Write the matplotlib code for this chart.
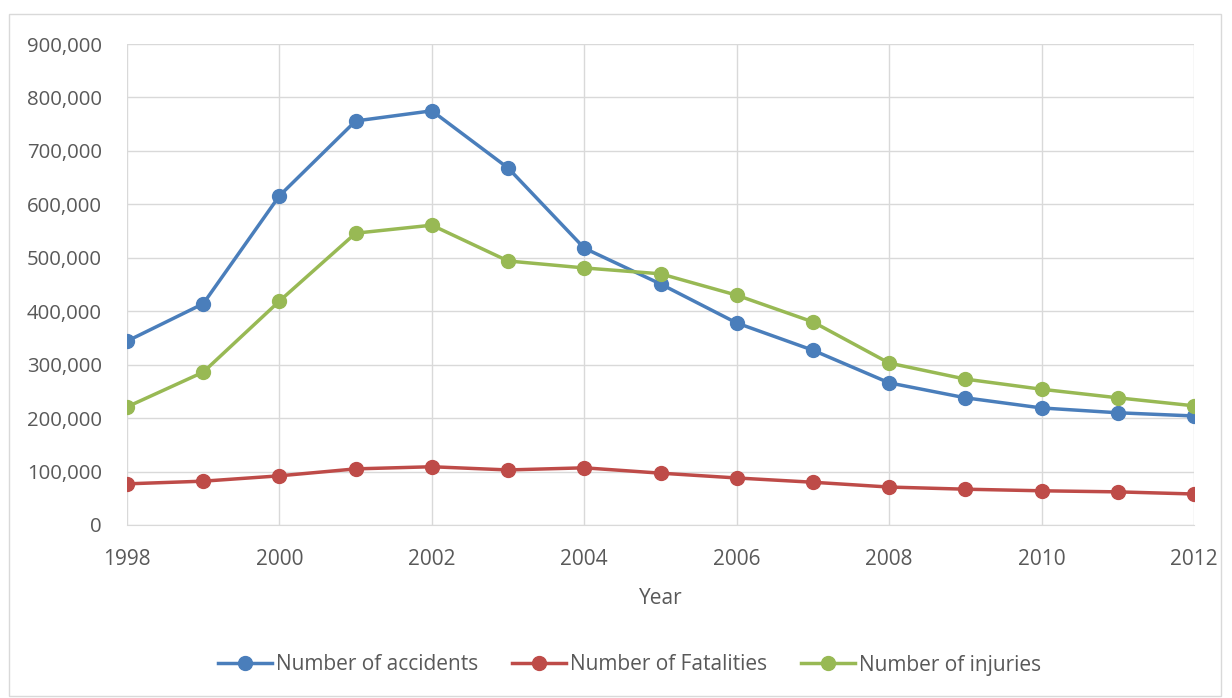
import matplotlib
matplotlib.use("Agg")
import matplotlib.pyplot as plt
import matplotlib.patches as patches
from matplotlib.ticker import FuncFormatter, MultipleLocator

years = list(range(1998, 2013))
accidents = [344000, 414000, 616000, 756000, 775000, 668000, 518000, 451000,
             378000, 327000, 266000, 238000, 219000, 210000, 204000]
fatalities = [77000, 82000, 92000, 105000, 109000, 103000, 107000, 97000,
              88000, 80000, 71000, 67000, 64000, 62000, 58000]
injuries = [221000, 286000, 419000, 546000, 561000, 494000, 481000, 470000,
            430000, 380000, 303000, 273000, 254000, 238000, 223000]

plt.rcParams['font.family'] = ['Open Sans', 'DejaVu Sans']
textcol = '#595959'
gridcol = '#d9d9d9'

fig = plt.figure(figsize=(12.32, 6.98), dpi=100)
ax = fig.add_axes([127 / 1232, 1 - 525 / 698, (1194 - 127) / 1232, (525 - 44) / 698])

# outer chart border
fig.patches.append(patches.Rectangle((9 / 1232, 2 / 698), 1212 / 1232, 682 / 698,
                                     transform=fig.transFigure, fill=False,
                                     edgecolor=gridcol, linewidth=1))

series = [(accidents, '#4a7ebb', 'Number of accidents'),
          (fatalities, '#be4b48', 'Number of Fatalities'),
          (injuries, '#98b954', 'Number of injuries')]
for vals, col, name in series:
    ax.plot(years, vals, color=col, linewidth=2.5, marker='o', markersize=10,
            label=name, zorder=3)

ax.set_xlim(1998, 2012)
ax.set_ylim(0, 900000)
ax.xaxis.set_major_locator(MultipleLocator(2))
ax.yaxis.set_major_locator(MultipleLocator(100000))
ax.yaxis.set_major_formatter(FuncFormatter(lambda v, p: f'{int(v):,}'))
ax.grid(True, color=gridcol, linewidth=1)
ax.set_axisbelow(True)
for s in ['top', 'right', 'left']:
    ax.spines[s].set_visible(False)
ax.spines['bottom'].set_color(gridcol)
ax.tick_params(axis='both', length=0, colors=textcol)
ax.tick_params(axis='x', pad=17, labelsize=15)
ax.tick_params(axis='y', pad=18, labelsize=14.7)
ax.set_xlabel('Year', fontsize=15, color=textcol, labelpad=13)

leg = fig.legend(loc='center', bbox_to_anchor=(0.511, 1 - 665 / 698), ncol=3,
                 frameon=False, fontsize=15, handlelength=2.6, columnspacing=1.6,
                 handletextpad=0.2, labelcolor=textcol)

fig.savefig('out.png', dpi=100)
